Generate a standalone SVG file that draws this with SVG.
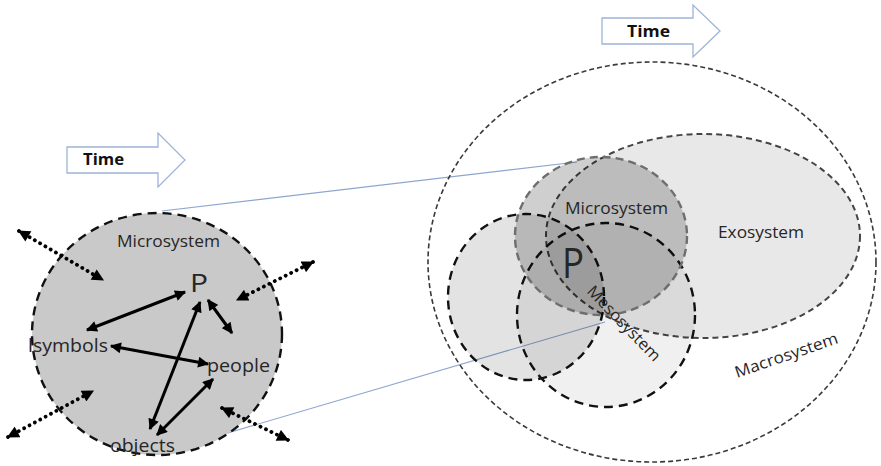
<svg xmlns="http://www.w3.org/2000/svg" width="881" height="466" viewBox="0 0 881 466">
  <style>
    .lbl { font-family: "Open Sans", "Liberation Sans", Arial, sans-serif; fill: #262626; }
    .time { font-family: "Open Sans", "Liberation Sans", Arial, sans-serif; font-weight: bold; font-size: 16px; fill: #111; }
    .timearrow { fill: #ffffff; stroke: #9fb4d8; stroke-width: 1.3; }
    .link { stroke: #8ea6cf; stroke-width: 1.1; fill: none; }
    .solid { stroke: #000; stroke-width: 3; fill: none; marker-start: url(#ah); marker-end: url(#ah); }
    .dotted { stroke: #000; stroke-width: 3.8; stroke-dasharray: 0.1 6; stroke-linecap: round; fill: none; marker-start: url(#dh); marker-end: url(#dh); }
  </style>
  <defs>
    <marker id="ah" viewBox="0 0 10 10" refX="9" refY="5" markerUnits="userSpaceOnUse" markerWidth="12" markerHeight="11" orient="auto-start-reverse">
      <path d="M0,0 L10,5 L0,10 z" fill="#000"/>
    </marker>
    <marker id="dh" viewBox="0 0 10 10" refX="9" refY="5" markerUnits="userSpaceOnUse" markerWidth="13" markerHeight="12" orient="auto-start-reverse">
      <path d="M0,0 L10,5 L0,10 z" fill="#000"/>
    </marker>
  </defs>

  <rect width="881" height="466" fill="#ffffff"/>

  <!-- Time arrows -->
  <g id="time-left">
    <polygon class="timearrow" points="67,147 158,147 158,133 185,160 158,187 158,173 67,173"/>
    <text class="time" x="83" y="165" textLength="41" lengthAdjust="spacingAndGlyphs">Time</text>
  </g>
  <g id="time-right">
    <polygon class="timearrow" points="602,18 693,18 693,5 720,31 693,57 693,44 602,44"/>
    <text class="time" x="627" y="37" textLength="43" lengthAdjust="spacingAndGlyphs">Time</text>
  </g>

  <!-- Zoom lines linking the detailed microsystem to the nested model -->
  <g id="connectors">
    <line class="link" x1="162" y1="211" x2="577" y2="162"/>
    <line class="link" x1="180" y1="447" x2="605" y2="322"/>
  </g>

  <!-- Nested systems model -->
  <g id="macrosystem">
    <ellipse cx="652" cy="262" rx="224" ry="200" fill="none" stroke="#3a3a3a" stroke-width="1.6" stroke-dasharray="5 3"/>
    <text class="lbl" x="737" y="378" font-size="16" textLength="108" lengthAdjust="spacingAndGlyphs" transform="rotate(-19 737 378)">Macrosystem</text>
  </g>
  <g id="exosystem">
    <ellipse cx="703" cy="236" rx="157" ry="102" fill="#000" fill-opacity="0.09" stroke="#444" stroke-width="2" stroke-dasharray="6 4"/>
    <text class="lbl" x="718" y="238" font-size="16" textLength="86" lengthAdjust="spacingAndGlyphs">Exosystem</text>
  </g>
  <g id="mesosystem">
    <ellipse cx="526" cy="297" rx="78" ry="83" fill="#000" fill-opacity="0.11" stroke="#111" stroke-width="2.4" stroke-dasharray="9 6"/>
    <ellipse cx="606" cy="315" rx="89" ry="92" fill="#000" fill-opacity="0.06" stroke="#111" stroke-width="2.4" stroke-dasharray="9 6"/>
  </g>
  <g id="microsystem-nested">
    <ellipse cx="601" cy="236" rx="86" ry="79" fill="#000" fill-opacity="0.19" stroke="#6e6e6e" stroke-width="2.4" stroke-dasharray="8 5"/>
    <text class="lbl" x="565" y="214" font-size="17" textLength="103" lengthAdjust="spacingAndGlyphs">Microsystem</text>
    <text class="lbl" x="562" y="278" font-size="42" textLength="22" lengthAdjust="spacingAndGlyphs" fill="#111">P</text>
  </g>
  <g id="mesosystem-label">
    <text class="lbl" x="586" y="292" font-size="16" textLength="98" lengthAdjust="spacingAndGlyphs" transform="rotate(46 586 292)">Mesosystem</text>
  </g>

  <!-- Detailed microsystem -->
  <g id="microsystem-detail">
    <ellipse cx="157" cy="334" rx="125" ry="121" fill="#c9c9c9" stroke="#111" stroke-width="2.4" stroke-dasharray="9 6"/>
    <text class="lbl" x="117" y="247" font-size="17" textLength="103" lengthAdjust="spacingAndGlyphs">Microsystem</text>
  </g>
  <g id="node-p">
    <text class="lbl" x="190" y="292" font-size="26" textLength="18" lengthAdjust="spacingAndGlyphs" fill="#111">P</text>
  </g>
  <g id="node-symbols">
    <text class="lbl" x="28" y="352" font-size="18" textLength="80" lengthAdjust="spacingAndGlyphs">lsymbols</text>
  </g>
  <g id="node-people">
    <text class="lbl" x="207" y="372" font-size="18" textLength="63" lengthAdjust="spacingAndGlyphs">people</text>
  </g>
  <g id="node-objects">
    <text class="lbl" x="110" y="452" font-size="18" textLength="65" lengthAdjust="spacingAndGlyphs">objects</text>
  </g>

  <g id="arrows">
    <line class="solid" x1="185" y1="292" x2="87" y2="330"/>
    <line class="solid" x1="208" y1="300" x2="232" y2="333"/>
    <line class="solid" x1="200" y1="302" x2="150" y2="429"/>
    <line class="solid" x1="111" y1="346" x2="208" y2="364"/>
    <line class="solid" x1="213" y1="379" x2="157" y2="435"/>
    <line class="dotted" x1="19" y1="231" x2="103" y2="280"/>
    <line class="dotted" x1="313" y1="262" x2="237" y2="300"/>
    <line class="dotted" x1="8" y1="437" x2="93" y2="391"/>
    <line class="dotted" x1="222" y1="408" x2="288" y2="440"/>
  </g>
</svg>
